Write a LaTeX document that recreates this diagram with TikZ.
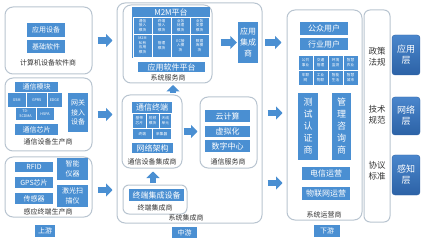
\documentclass[tikz,border=0pt]{standalone}
\usepackage{fontspec}
\setmainfont{Noto Sans CJK SC}
\usetikzlibrary{arrows.meta}
\definecolor{bblue}{HTML}{4A8FD2}
\definecolor{gline}{HTML}{B8C4D0}
\definecolor{tdark}{HTML}{333333}
\definecolor{ltop}{HTML}{4A86CC}
\definecolor{lbot}{HTML}{2C62A6}
\newcommand{\bxn}[7][]{\node[#1, minimum width={((#5)-(#3))*1pt}, minimum height={((#6)-(#4))*1pt}] (#2) at ({((#3)+(#5))/2},{((#4)+(#6))/2}) {#7};}
\tikzset{
 blk/.style={fill=bblue, text=white, inner sep=0pt, align=center, font=\fontsize{8}{11}\selectfont},
 blks/.style={blk, font=\fontsize{7}{9.5}\selectfont},
 cell/.style={fill=bblue, draw=white, line width=0.4pt, text=white, inner sep=0pt, align=center, font=\fontsize{3.7}{4.5}\selectfont},
 grp/.style={draw=gline, line width=1pt, rounded corners=8pt, inner sep=0pt},
 lbl/.style={text=tdark, inner sep=0pt, font=\fontsize{7}{8}\selectfont},
 pol/.style={text=tdark, inner sep=0pt, align=center, font=\fontsize{8.5}{11}\selectfont},
 lay/.style={top color=ltop, bottom color=lbot, draw=lbot, rounded corners=3pt, text=white, align=center, inner sep=0pt, font=\fontsize{9}{11}\selectfont},
 tag/.style={blk, font=\fontsize{7}{8}\selectfont},
 vtx/.style={blk, font=\fontsize{9}{12}\selectfont},
 barr/.style={draw=bblue, line width=6.5pt, -{Triangle[length=6.5pt,width=13pt]}},
}
\begin{document}
\begin{tikzpicture}[x=1pt,y=-1pt]
\useasboundingbox (0,0) rectangle (425,240);
% ---------- upstream ----------
\bxn[grp]{A}{5}{7}{92}{74}{}
\bxn[blks]{A1}{27}{23}{65}{37}{应用设备}
\bxn[blks]{A2}{27}{40}{65}{53}{基础软件}
\node[lbl] (Al) at (48,63) {计算机设备软件商};

\bxn[grp]{B}{5}{78}{92}{151}{}
\bxn[blks]{B1}{15}{82}{58}{92.5}{通信模块}
\bxn[cell]{B2}{7}{92.5}{26.5}{107}{GSM}
\bxn[cell]{B3}{26.5}{92.5}{47}{107}{GPRS}
\bxn[cell]{B4}{47}{92.5}{62}{107}{EDGE}
\bxn[cell]{B5}{15}{107}{36}{120.5}{TD-\\SCDMA}
\bxn[cell]{B6}{36}{107}{54}{120.5}{HSPA}
\bxn[blks]{B7}{68}{93}{88}{132}{网关\\接入\\设备}
\bxn[blks]{B8}{15}{124}{58}{135}{通信芯片}
\node[lbl] (Bl) at (48,142) {通信设备生产商};

\bxn[grp]{C}{5}{157}{92}{217}{}
\bxn[blks]{C1}{15}{162}{53}{172}{RFID}
\bxn[blks]{C2}{15}{177}{53}{188}{GPS芯片}
\bxn[blks]{C3}{15}{193}{53}{204}{传感器}
\bxn[blks]{C4}{57}{158}{88}{180}{智能\\仪器}
\bxn[blks]{C5}{57}{185}{88}{207}{激光扫\\描仪}
\node[lbl] (Cl) at (48,211.5) {感应终端生产商};
\bxn[tag]{T1}{35}{225}{55}{237}{上游}

% ---------- midstream ----------
\bxn[grp]{M}{117}{3}{262}{223}{}
\bxn[grp]{S}{123}{5}{212}{83}{}
\bxn[blk]{S0}{132}{7}{210}{58}{}
\node[blk, fill=none] (S0t) at (171,12) {M2M平台};
\bxn[cell]{S1}{133}{17}{152}{34}{通信\\接入\\模块}
\bxn[cell]{S2}{152}{17}{171}{34}{终端\\接入\\模块}
\bxn[cell]{S3}{171}{17}{190}{34}{业务\\处理\\模块}
\bxn[cell]{S4}{190}{17}{209}{34}{业务\\支撑\\模块}
\bxn[cell]{S5}{133}{34}{152}{57}{M2M\\私有\\应用\\模块}
\bxn[cell]{S6}{152}{34}{171}{57}{管理\\模块}
\bxn[cell]{S7}{171}{34}{190}{57}{EC接\\入模\\块}
\bxn[cell]{S8}{190}{34}{209}{57}{数据\\库模\\块}
\bxn[blk]{S9}{138}{62}{205}{72.5}{应用软件平台}
\node[lbl] (Sl) at (168,77.5) {系统服务商};

\bxn[blk]{AI}{238}{22}{258}{63}{应用\\集成\\商}

\bxn[grp]{CE}{122}{95}{182}{168}{}
\bxn[blk]{CE0}{132}{102}{172}{140}{}
\node[blk, fill=none] (CE0t) at (152,107.5) {通信终端};
\bxn[cell]{CE1}{132.5}{113}{146}{128}{基带\\芯片}
\bxn[cell]{CE2}{146}{113}{159}{128}{射频\\模块}
\bxn[cell]{CE3}{159}{113}{171.5}{128}{天线\\单元}
\bxn[cell]{CE4}{132.5}{128}{152}{139.5}{终端}
\bxn[cell]{CE5}{152}{128}{171.5}{139.5}{采集器}
\bxn[blk]{CE9}{132}{143}{173}{153.5}{网络架构}
\node[lbl] (CEl) at (152,162) {通信设备集成商};

\bxn[grp]{CS}{200}{97}{257}{168}{}
\bxn[blk]{CS1}{205}{110}{250}{122}{云计算}
\bxn[blk]{CS2}{205}{126}{250}{137.5}{虚拟化}
\bxn[blk]{CS3}{205}{140.5}{250}{152}{数字中心}
\node[lbl] (CSl) at (228,162) {通信服务商};

\bxn[grp, rounded corners=6pt]{TI}{123}{185}{187}{214}{}
\bxn[blk]{TI1}{129}{189}{184}{201}{终端集成设备}
\node[lbl] (TIl) at (155,208) {终端集成商};
\node[lbl] (Ml) at (186,218) {系统集成商};
\bxn[tag]{T2}{172}{227}{197}{238}{中游}

% ---------- downstream ----------
\bxn[grp]{R}{287}{10}{362}{220}{}
\bxn[blk]{R1}{300}{22}{348}{35}{公众用户}
\bxn[blk]{R2}{300}{38}{348}{50}{行业用户}
\bxn[cell]{G1}{298}{55}{313}{70}{公共\\事业}
\bxn[cell]{G2}{313}{55}{328}{70}{交通\\管理}
\bxn[cell]{G3}{328}{55}{343}{70}{环境\\监测}
\bxn[cell]{G4}{343}{55}{358}{70}{智慧\\农业}
\bxn[cell]{G5}{298}{70}{313}{85}{车联\\网}
\bxn[cell]{G6}{313}{70}{328}{85}{工业\\物联}
\bxn[cell]{G7}{328}{70}{343}{85}{智能\\生活}
\bxn[cell]{G8}{343}{70}{358}{85}{智慧\\城市}
\bxn[vtx]{R5}{298}{93}{318}{160}{测\\试\\认\\证\\商}
\bxn[vtx]{R6}{332}{93}{351}{160}{管\\理\\咨\\询\\商}
\bxn[blk]{R7}{302}{167}{350}{180}{电信运营}
\bxn[blk]{R8}{302}{187}{350}{200}{物联网运营}
\node[lbl] (Rl) at (324,214.5) {系统运营商};
\bxn[tag]{T3}{314}{225}{340}{237}{下游}

\bxn[grp, rounded corners=6pt]{P}{364}{10}{390}{222}{}
\node[pol] (P1) at (377,57) {政策\\法规};
\node[pol] (P2) at (377,115) {技术\\规范};
\node[pol] (P3) at (377,171) {协议\\标准};

\bxn[lay]{L1}{392}{35}{420}{75}{应用\\层}
\bxn[lay]{L2}{392}{97}{420}{135}{网络\\层}
\bxn[lay]{L3}{392}{155}{420}{195}{感知\\层}

% ---------- arrows ----------
\draw[barr, shorten <=5pt, shorten >=4pt] (A.east) -- (A.east -| M.west);
\draw[barr, shorten <=5pt, shorten >=4pt] (B.east) -- (B.east -| M.west);
\draw[barr, shorten <=5pt, shorten >=4pt] ([yshift=-3pt]C.east) -- ([yshift=-3pt]C.east -| M.west);
\draw[barr, shorten <=8pt, shorten >=1pt] (AI.west -| S.east) -- (AI.west);
\draw[barr, shorten <=7pt, shorten >=5pt] (AI.east) -- (AI.east -| R.west);
\draw[barr, shorten <=1pt, shorten >=2pt] (CE.east) -- (CE.east -| CS.west);
\draw[barr, shorten <=1.5pt, shorten >=1.5pt] ([xshift=21pt]CE.north) -- ([xshift=21pt]CE.north |- S.south);
\draw[barr, shorten <=1.5pt, shorten >=3pt] ([xshift=-2pt]TI.north) -- ([xshift=-2pt]TI.north |- CE.south);
\draw[barr, shorten <=5pt, shorten >=4pt] (M.east) -- (M.east -| R.west);
\draw[barr, shorten <=5pt, shorten >=4pt] ([yshift=-70pt]M.east) -- ([yshift=-70pt]M.east -| R.west);
\end{tikzpicture}
\end{document}
